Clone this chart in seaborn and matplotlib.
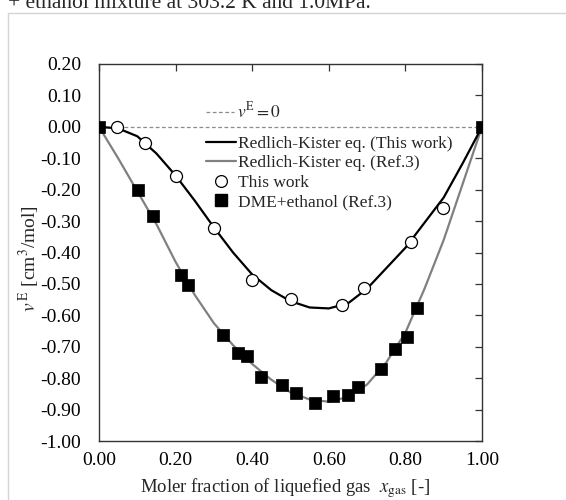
import numpy as np
import pandas as pd
import matplotlib
matplotlib.use("Agg")
import matplotlib.pyplot as plt
import seaborn as sns
from matplotlib.lines import Line2D
from matplotlib.patches import Rectangle

# measured points, this work (open circles)
x_this = [0.047, 0.121, 0.200, 0.299, 0.400, 0.502, 0.634, 0.691, 0.815, 0.898]
v_this = [0.000, -0.052, -0.156, -0.322, -0.487, -0.548, -0.566, -0.514, -0.367, -0.257]

# DME + ethanol, Ref.3 (filled squares)
x_ref = [0.000, 0.102, 0.140, 0.213, 0.233, 0.323, 0.364, 0.387, 0.423, 0.478,
         0.514, 0.565, 0.611, 0.650, 0.675, 0.736, 0.773, 0.805, 0.830, 1.000]
v_ref = [0.000, -0.201, -0.285, -0.471, -0.503, -0.663, -0.720, -0.731, -0.797, -0.822,
         -0.847, -0.879, -0.858, -0.855, -0.828, -0.770, -0.706, -0.670, -0.577, 0.000]

# Redlich-Kister curves
x_curve = [0.00, 0.05, 0.10, 0.15, 0.20, 0.25, 0.30, 0.35, 0.40, 0.45, 0.50,
           0.55, 0.60, 0.65, 0.70, 0.75, 0.80, 0.85, 0.90, 0.95, 1.00]
v_rk_this = [0.000, -0.005, -0.030, -0.085, -0.155, -0.235, -0.320, -0.400, -0.470, -0.520, -0.555,
             -0.575, -0.578, -0.562, -0.515, -0.450, -0.385, -0.305, -0.225, -0.115, 0.000]
v_rk_ref = [0.000, -0.100, -0.205, -0.310, -0.430, -0.535, -0.625, -0.695, -0.755, -0.805, -0.845,
            -0.868, -0.875, -0.860, -0.820, -0.750, -0.655, -0.515, -0.360, -0.180, 0.000]

y_ticks = [0.20, 0.10, 0.00, -0.10, -0.20, -0.30, -0.40, -0.50, -0.60, -0.70, -0.80, -0.90, -1.00]
x_ticks = [0.00, 0.20, 0.40, 0.60, 0.80, 1.00]

sns.set_style("white")
plt.rcParams['font.family'] = ['Liberation Serif', 'DejaVu Serif']
plt.rcParams['mathtext.fontset'] = 'stix'
plt.rcParams['axes.unicode_minus'] = False

fig = plt.figure(figsize=(5.66, 5.0), dpi=100)
ax = fig.add_axes([99 / 566, 59 / 500, 383 / 566, 377 / 500])

# page frame and clipped caption behind the chart
fig.patches.append(Rectangle((8 / 566, -0.1), 1.2, (500 - 13) / 500 + 0.1,
                             transform=fig.transFigure, fill=False,
                             edgecolor='#d4d4d4', linewidth=1.0, zorder=0))
fig.text(7.5 / 566, 492 / 500, "+ ethanol mixture at 303.2 K and 1.0MPa.",
         fontsize=15.5, va='baseline', ha='left')

ax.axhline(0, color='#8c8c8c', linestyle=(0, (3, 2)), linewidth=0.9, zorder=1)

sns.lineplot(x=x_curve, y=v_rk_ref, ax=ax, color='#808080', linewidth=1.6, sort=False, zorder=2)
sns.lineplot(x=x_curve, y=v_rk_this, ax=ax, color='black', linewidth=1.6, sort=False, zorder=3)
sns.scatterplot(x=x_this, y=v_this, ax=ax, marker='o', s=75, facecolor='white',
                edgecolor='black', linewidth=0.9, zorder=4)
sns.scatterplot(x=x_ref, y=v_ref, ax=ax, marker='s', s=85, color='black',
                edgecolor='black', linewidth=0.5, zorder=5)

ax.set_xlim(0, 1)
ax.set_ylim(-1.0, 0.2)
ax.set_xticks(x_ticks)
ax.set_yticks(y_ticks)
ax.set_xticklabels([f"{t:.2f}" for t in x_ticks])
ax.set_yticklabels([f"{t:.2f}" for t in y_ticks])
ax.tick_params(direction='in', length=5, width=0.9, color='#333333',
               top=True, right=True, labelsize=14, labelcolor='black')
ax.tick_params(axis='y', pad=13)
ax.tick_params(axis='x', pad=8)
for sp in ax.spines.values():
    sp.set_visible(True)
    sp.set_color('#333333')
    sp.set_linewidth(1.0)

ax.set_xlabel(r"Moler fraction of liquefied gas  $x_{\mathrm{gas}}$ [-]", fontsize=13.5)
ax.set_ylabel(r"$v^{\,\mathrm{E}}$ [cm$^3$/mol]", fontsize=14)
ax.xaxis.set_label_coords(0.486, -0.094)
ax.yaxis.set_label_coords(-0.15, 0.485)

# legends
h0 = [Line2D([], [], color='#8c8c8c', linestyle=(0, (3, 2)), linewidth=0.9)]
leg0 = ax.legend(h0, [r"$v^{\mathrm{E}} = 0$"], loc='center left',
                 bbox_to_anchor=((206 - 99) / 383, (441 - 111.7) / 377),
                 frameon=False, fontsize=12.5, handlelength=1.6, handletextpad=0.2,
                 borderpad=0, borderaxespad=0)
ax.add_artist(leg0)

handles = [
    Line2D([], [], color='black', linewidth=1.6),
    Line2D([], [], color='#808080', linewidth=1.6),
    Line2D([], [], linestyle='none', marker='o', markersize=8.5,
           markerfacecolor='white', markeredgecolor='black', markeredgewidth=0.9),
    Line2D([], [], linestyle='none', marker='s', markersize=8.5, color='black'),
]
labels = ["Redlich-Kister eq. (This work)", "Redlich-Kister eq. (Ref.3)",
          "This work", "DME+ethanol (Ref.3)"]
ax.legend(handles, labels, loc='upper left',
          bbox_to_anchor=((206 - 99) / 383, (441 - 136) / 377),
          frameon=False, fontsize=12.5, handlelength=1.75, handletextpad=0.1,
          labelspacing=0.18, borderpad=0, borderaxespad=0)

fig.savefig("out.png", dpi=100)
